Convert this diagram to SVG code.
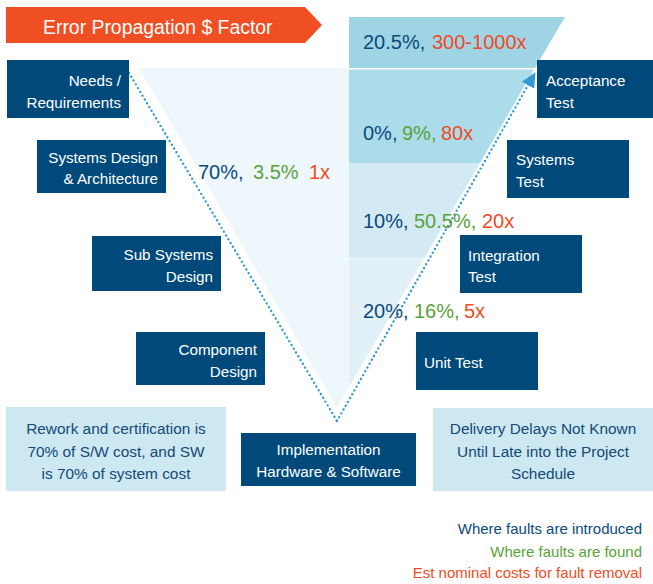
<svg xmlns="http://www.w3.org/2000/svg" width="653" height="584" viewBox="0 0 653 584">
<defs>
<style>
text{font-family:"Liberation Sans",Arial,sans-serif}
.node{fill:#004a7b}
.note{fill:#cde8f1}
.nt{fill:#ffffff;font-size:15.2px}
.bt{fill:#154a78;font-size:15.4px}
.pct{font-size:20px}
.blue{fill:#0b4a7b}
.green{fill:#5aa23a}
.orange{fill:#ef4c24}
.dots{fill:none;stroke:#3399d5;stroke-width:2.4;stroke-linecap:round;stroke-dasharray:0 4.4}
</style>
<marker id="arr" markerUnits="userSpaceOnUse" markerWidth="16" markerHeight="14" refX="14" refY="7" orient="auto">
<path d="M0,0 L15,7 L0,14 z" fill="#3399d5"/>
</marker>
</defs>
<rect width="653" height="584" fill="#ffffff"/>

<g id="title">
<polygon points="6,7 305,7 322,25 305,43 6,43" fill="#f04e23"/>
<text x="43" y="34" fill="#ffffff" font-size="19.4">Error Propagation $ Factor</text>
</g>

<g id="funnel">
<polygon points="139,68 349,68 349,387 337,408" fill="#eef7fb"/>
<polygon points="349,17 565,17 535,68 349,68" fill="#9fd4e5"/>
<rect x="349" y="68" width="186" height="1.5" fill="#ffffff"/>
<polygon points="349,69.5 534,69.5 480,163 349,163" fill="#acdbe9"/>
<polygon points="349,163 480,163 425,257 349,257" fill="#d3eaf4"/>
<polygon points="349,257 425,257 349,387" fill="#e1f1f7"/>
</g>

<g id="connectors">
<polyline class="dots" points="129,73 337,421"/>
<polyline class="dots" points="337,421 535,73" marker-end="url(#arr)"/>
</g>

<g id="labels">
<text class="pct" y="179"><tspan class="blue" x="198">70%,</tspan><tspan class="green" x="253">3.5%</tspan><tspan class="orange" x="309">1x</tspan></text>
<text class="pct" y="49"><tspan class="blue" x="363">20.5%,</tspan><tspan class="orange" x="432">300-1000x</tspan></text>
<text class="pct" y="140"><tspan class="blue" x="363">0%,</tspan><tspan class="green" x="402">9%,</tspan><tspan class="orange" x="441">80x</tspan></text>
<text class="pct" y="228"><tspan class="blue" x="363">10%,</tspan><tspan class="green" x="414">50.5%,</tspan><tspan class="orange" x="482">20x</tspan></text>
<text class="pct" y="318"><tspan class="blue" x="363">20%,</tspan><tspan class="green" x="414">16%,</tspan><tspan class="orange" x="464">5x</tspan></text>
</g>

<g id="needs">
<rect class="node" x="7" y="60" width="122" height="58"/>
<text class="nt" text-anchor="end"><tspan x="121" y="86">Needs /</tspan><tspan x="121" y="108">Requirements</tspan></text>
</g>
<g id="systems-design">
<rect class="node" x="37" y="140" width="129" height="53"/>
<text class="nt" text-anchor="end"><tspan x="158" y="163">Systems Design</tspan><tspan x="158" y="184">&amp; Architecture</tspan></text>
</g>
<g id="subsystems-design">
<rect class="node" x="92" y="236" width="129" height="55"/>
<text class="nt" text-anchor="end"><tspan x="213" y="260">Sub Systems</tspan><tspan x="213" y="282">Design</tspan></text>
</g>
<g id="component-design">
<rect class="node" x="136" y="332" width="129" height="53"/>
<text class="nt" text-anchor="end"><tspan x="257" y="355">Component</tspan><tspan x="257" y="377">Design</tspan></text>
</g>
<g id="acceptance-test">
<rect class="node" x="537" y="60" width="116" height="58"/>
<text class="nt"><tspan x="546" y="86">Acceptance</tspan><tspan x="546" y="108">Test</tspan></text>
</g>
<g id="systems-test">
<rect class="node" x="507" y="140" width="122" height="58"/>
<text class="nt"><tspan x="516" y="165">Systems</tspan><tspan x="516" y="187">Test</tspan></text>
</g>
<g id="integration-test">
<rect class="node" x="460" y="235" width="122" height="58"/>
<text class="nt"><tspan x="468" y="261">Integration</tspan><tspan x="468" y="282">Test</tspan></text>
</g>
<g id="unit-test">
<rect class="node" x="416" y="332" width="122" height="58"/>
<text class="nt" x="424" y="368">Unit Test</text>
</g>
<g id="implementation">
<rect class="node" x="241" y="433" width="175" height="53"/>
<text class="nt" text-anchor="middle"><tspan x="328.5" y="455">Implementation</tspan><tspan x="328.5" y="477">Hardware &amp; Software</tspan></text>
</g>
<g id="rework-note">
<rect class="note" x="6" y="407" width="220" height="84"/>
<text class="bt" text-anchor="middle"><tspan x="116" y="434">Rework and certification is</tspan><tspan x="116" y="457">70% of S/W cost, and SW</tspan><tspan x="116" y="479">is 70% of system cost</tspan></text>
</g>
<g id="delivery-note">
<rect class="note" x="433" y="408" width="220" height="83"/>
<text class="bt" text-anchor="middle"><tspan x="543" y="434">Delivery Delays Not Known</tspan><tspan x="543" y="457">Until Late into the Project</tspan><tspan x="543" y="479">Schedule</tspan></text>
</g>
<g id="legend" font-size="15">
<text class="blue" x="642" y="534" text-anchor="end" font-size="15">Where faults are introduced</text>
<text class="green" x="642" y="557" text-anchor="end" font-size="15">Where faults are found</text>
<text class="orange" x="642" y="578" text-anchor="end" font-size="15">Est nominal costs for fault removal</text>
</g>
</svg>
